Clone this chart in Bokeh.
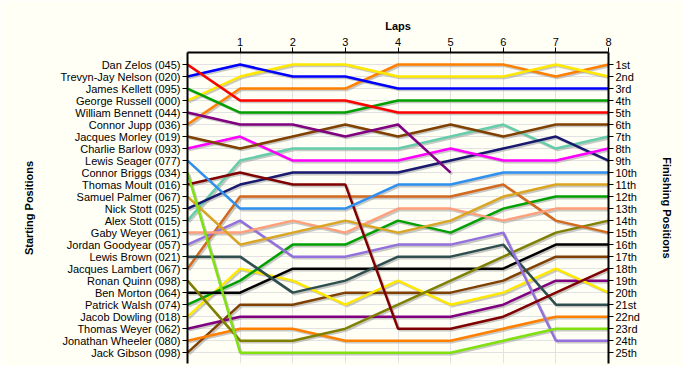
from bokeh.plotting import figure
from bokeh.models import LinearAxis, FixedTicker, Range1d
from bokeh.embed import file_html
from bokeh.resources import INLINE

drivers = ["Dan Zelos (045)", "Trevyn-Jay Nelson (020)", "James Kellett (095)", "George Russell (000)",
           "William Bennett (044)", "Connor Jupp (036)", "Jacques Morley (019)", "Charlie Barlow (093)",
           "Lewis Seager (077)", "Connor Briggs (034)", "Thomas Moult (016)", "Samuel Palmer (067)",
           "Nick Stott (025)", "Alex Stott (015)", "Gaby Weyer (061)", "Jordan Goodyear (057)",
           "Lewis Brown (021)", "Jacques Lambert (067)", "Ronan Quinn (098)", "Ben Morton (064)",
           "Patrick Walsh (074)", "Jacob Dowling (018)", "Thomas Weyer (062)", "Jonathan Wheeler (080)",
           "Jack Gibson (098)"]

laps = [0, 1, 2, 3, 4, 5, 6, 7, 8]

# positions of each driver (in starting order) after each lap; None = retired
lap_0 = [1, 2, 3, 4, 5, 6, 7, 8, 9, 10, 11, 12, 13, 14, 15, 16, 17, 18, 19, 20, 21, 22, 23, 24, 25]
lap_1 = [4, 1, 5, 2, 6, 3, 8, 7, 13, 25, 10, 16, 11, 9, 15, 14, 17, 12, 24, 20, 19, 18, 22, 23, 21]
lap_2 = [4, 2, 5, 1, 6, 3, 7, 9, 13, 25, 11, 15, 10, 8, 14, 17, 20, 12, 24, 18, 16, 19, 22, 23, 21]
lap_3 = [4, 2, 5, 1, 7, 3, 6, 9, 13, 25, 11, 14, 10, 8, 15, 17, 19, 12, 23, 18, 16, 21, 22, 24, 20]
lap_4 = [5, 3, 4, 2, 6, 1, 7, 9, 11, 25, 23, 15, 10, 8, 13, 16, 17, 12, 21, 18, 14, 19, 22, 24, 20]
lap_5 = [5, 3, 4, 2, 10, 1, 6, 8, 11, 25, 23, 14, 9, 7, 13, 16, 17, 12, 19, 18, 15, 21, 22, 24, 20]
lap_6 = [5, 3, 4, 2, None, 1, 7, 9, 10, 24, 22, 12, 8, 6, 14, 15, 16, 11, 17, 18, 13, 20, 21, 23, 19]
lap_7 = [5, 3, 4, 1, None, 2, 6, 9, 10, 23, 20, 11, 7, 8, 13, 24, 21, 14, 15, 16, 12, 18, 19, 22, 17]
lap_8 = [5, 3, 4, 2, None, 1, 6, 8, 10, 23, 18, 11, 9, 7, 13, 24, 21, 15, 14, 16, 12, 20, 19, 22, 17]

finish_labels = ["1st", "2nd", "3rd", "4th", "5th", "6th", "7th", "8th", "9th", "10th", "11th", "12th",
                 "13th", "14th", "15th", "16th", "17th", "18th", "19th", "20th", "21st", "22nd", "23rd",
                 "24th", "25th"]

colors = ["#FF0000", "#0000FF", "#00A000", "#FFE800", "#800080", "#FF8000", "#804000", "#FF00FF",
          "#3090F0", "#80E010", "#800000", "#DAA520", "#191970", "#66CDAA", "#FFA07A", "#9370DB",
          "#2F4F4F", "#D2691E", "#808000", "#000000",
          "#00A000", "#FFE800", "#800080", "#FF8000", "#804000"]

BG = "#FFFFF6"
FONT = "Liberation Sans"

p = figure(width=684, height=366, x_range=Range1d(0, 8), y_range=Range1d(25.9, 0),
           x_axis_location="above", output_backend="svg", toolbar_location=None,
           min_border_left=187, min_border_right=76, min_border_top=52, min_border_bottom=3)
p.background_fill_color = BG
p.border_fill_color = BG
p.outline_line_color = None

all_laps = [lap_0, lap_1, lap_2, lap_3, lap_4, lap_5, lap_6, lap_7, lap_8]
series = []
for i in range(len(drivers)):
    ys = [float("nan") if lp[i] is None else lp[i] for lp in all_laps]
    series.append(ys)

# shadows
for i, ys in enumerate(series):
    p.line([x + 0.03 for x in laps], [y + 0.13 for y in ys], line_color="#9A9A9A",
           line_alpha=0.55, line_width=2.5)
for i in reversed(range(len(series))):
    p.line(laps, series[i], line_color=colors[i], line_width=2.5)

# grids
p.xgrid.ticker = FixedTicker(ticks=laps[1:])
p.ygrid.ticker = FixedTicker(ticks=lap_0)
p.xgrid.grid_line_color = "#E2E2E2"
p.ygrid.grid_line_color = "#E2E2E2"

def style_axis(ax):
    ax.axis_line_color = "black"
    ax.axis_line_width = 2
    ax.major_tick_line_color = "black"
    ax.major_tick_line_width = 1
    ax.major_tick_out = 5
    ax.major_tick_in = 0
    ax.minor_tick_line_color = None
    ax.major_label_text_font = FONT
    ax.major_label_text_font_size = "11px"
    ax.major_label_text_color = "black"
    ax.axis_label_text_font = FONT
    ax.axis_label_text_font_size = "11px"
    ax.axis_label_text_font_style = "bold"
    ax.axis_label_text_color = "black"

# top axis
xa = p.xaxis[0]
style_axis(xa)
xa.ticker = FixedTicker(ticks=laps[1:])
xa.axis_label = "Laps"
xa.axis_label_standoff = 3
xa.major_label_standoff = 2

# left axis
ya = p.yaxis[0]
style_axis(ya)
ya.ticker = FixedTicker(ticks=lap_0)
ya.major_label_overrides = {k: drivers[k - 1] for k in lap_0}
ya.axis_label = "Starting Positions"
ya.axis_label_standoff = 22
ya.major_label_standoff = 2

# right axis
ra = LinearAxis()
style_axis(ra)
ra.ticker = FixedTicker(ticks=lap_0)
ra.major_label_overrides = {k: finish_labels[k - 1] for k in lap_0}
ra.axis_label = "Finishing Positions"
ra.axis_label_standoff = 18
ra.major_label_standoff = 2
p.add_layout(ra, "right")

open("out.html", "w").write(file_html(p, INLINE))
